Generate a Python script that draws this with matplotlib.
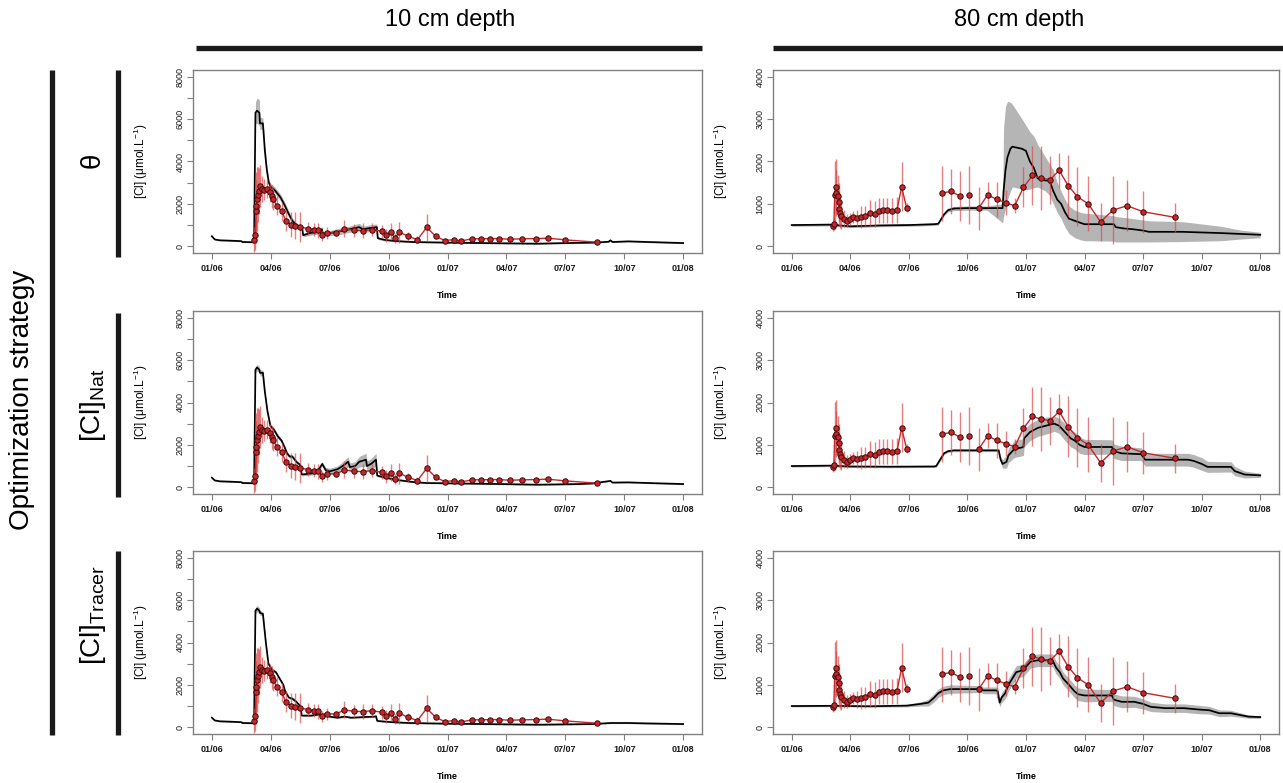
import matplotlib
matplotlib.use('Agg')
import matplotlib.pyplot as plt
from matplotlib.lines import Line2D
import numpy as np

plt.rcParams['font.family'] = ['Liberation Sans', 'DejaVu Sans']
plt.rcParams['mathtext.default'] = 'regular'

# time axis: months since 01/01/2006
month_ticks = [0, 3, 6, 9, 12, 15, 18, 21, 24]
month_labels = ['01/06', '04/06', '07/06', '10/06', '01/07', '04/07', '07/07', '10/07', '01/08']
y10_ticks = [0, 1000, 2000, 3000, 4000, 5000, 6000, 7000, 8000]
y10_labels = ['0', '', '2000', '', '4000', '', '6000', '', '8000']
y80_ticks = [0, 1000, 2000, 3000, 4000]
y80_labels = ['0', '1000', '2000', '3000', '4000']

# observations, 10 cm
obs10_t = [2.17, 2.21, 2.25, 2.26, 2.30, 2.36, 2.42, 2.47, 2.53, 2.64, 2.83, 2.98, 3.06, 3.09,
           3.32, 3.55, 3.77, 4.02, 4.25, 4.50, 4.9, 5.19, 5.43, 5.62, 5.85, 6.34, 6.75, 7.23,
           7.70, 8.17, 8.64, 8.87, 9.1, 9.32, 9.55, 10.0, 10.47, 10.94, 11.4, 11.85, 12.32,
           12.7, 13.25, 13.7, 14.15, 14.6, 15.2, 15.8, 16.5, 17.1, 18.0, 19.6]
obs10_v = [310, 520, 1650, 1900, 2230, 2430, 2600, 2850, 2700, 2670, 2720, 2540, 2350, 2230,
           1920, 1650, 1210, 1020, 970, 910, 830, 780, 750, 520, 630, 630, 820, 750,
           740, 780, 710, 520, 680, 390, 660, 470, 310, 890, 470, 270, 310,
           250, 350, 350, 360, 360, 330, 350, 360, 380, 300, 190]
obs10_e = [600, 700, 1500, 1600, 1500, 1300, 1100, 1000, 600, 500, 450, 450, 550, 500,
           450, 450, 500, 600, 650, 700, 300, 300, 350, 250, 300, 150, 400, 300,
           350, 300, 300, 300, 400, 250, 500, 200, 150, 650, 100, 80, 60,
           60, 60, 60, 60, 60, 60, 60, 60, 60, 80, 60]
obs10_breaks = []

# observations, 80 cm
obs80_t = [2.13, 2.16, 2.20, 2.26, 2.29, 2.35, 2.41, 2.44, 2.48, 2.54, 2.69, 2.85, 3.0, 3.13,
           3.36, 3.54, 3.77, 3.99, 4.25, 4.46, 4.66, 4.89, 5.15, 5.39, 5.63, 5.88, 7.7, 8.17,
           8.62, 9.1, 9.57, 10.04, 10.5, 10.95, 11.42, 11.87, 12.33, 12.76, 13.23, 13.7,
           14.16, 14.63, 15.19, 15.82, 16.46, 17.18, 18.0, 19.65]
obs80_v = [470, 525, 1215, 1400, 1255, 1180, 1035, 885, 785, 705, 650, 600, 645, 690,
           660, 690, 705, 785, 760, 840, 845, 845, 840, 855, 1400, 910, 1255, 1295,
           1180, 1215, 895, 1215, 1105, 1030, 955, 1390, 1670, 1610, 1570, 1790,
           1430, 1170, 1000, 575, 855, 955, 815, 680]
obs80_e = [100, 150, 800, 650, 550, 500, 450, 400, 350, 300, 200, 150, 150, 150,
           200, 250, 250, 300, 300, 300, 300, 300, 300, 300, 580, 100, 650, 530,
           590, 680, 510, 300, 420, 300, 180, 470, 700, 750, 570, 420,
           720, 690, 650, 445, 800, 600, 500, 345]
obs80_breaks = [25, 28, 29]

# model, 10 cm, theta
m10_theta_t = [0, 0.15, 0.4, 1.0, 1.5, 1.55, 2.1, 2.15, 2.22, 2.3, 2.42, 2.45, 2.6, 2.7, 2.8,
               2.9, 3.0, 3.2, 3.5, 3.7, 3.9, 4.1, 4.3, 4.6, 4.65, 5.0, 5.5, 5.6, 5.65, 6.0,
               6.5, 7.0, 7.5, 7.7, 8.0, 8.4, 8.45, 8.8, 9.3, 10.2, 12.0, 14.7, 16.6, 17.5, 19.4,
               20.2, 20.3, 20.4, 21.2, 22.2, 24.0]
m10_theta_v = [470, 320, 280, 260, 240, 200, 190, 190, 6300, 6400, 6300, 5800, 5800, 4500, 3600,
               3000, 2800, 2650, 2300, 1950, 1550, 1200, 1000, 850, 520, 620, 700, 800, 600, 620,
               700, 800, 900, 800, 850, 900, 380, 300, 250, 200, 170, 140, 120, 140, 170,
               210, 280, 200, 230, 200, 150]
m10_theta_w = [30, 30, 30, 30, 30, 30, 30, 30, 500, 600, 600, 300, 250, 200, 200,
               150, 150, 150, 150, 150, 150, 120, 100, 100, 80, 100, 120, 150, 100, 120,
               150, 150, 180, 150, 150, 150, 60, 50, 40, 30, 30, 30, 30, 30, 30,
               30, 30, 30, 30, 30, 30]

# model, 10 cm, [Cl]Nat
m10_nat_t = [0, 0.15, 0.4, 1.0, 1.5, 1.55, 2.1, 2.15, 2.22, 2.3, 2.42, 2.45, 2.6, 2.7, 2.83,
             2.98, 3.17, 3.36, 3.55, 3.7, 3.83, 3.96, 4.1, 4.3, 4.5, 4.58, 5.06, 5.35, 5.62, 5.8,
             6.0, 6.4, 6.66, 6.94, 7.03, 7.3, 7.5, 7.85, 7.9, 8.1, 8.36, 8.42, 8.85, 9.4, 10.2,
             10.9, 14.7, 16.6, 18.7, 19.4, 20.3, 20.4, 21.2, 22.2, 24.0]
m10_nat_v = [450, 320, 280, 260, 240, 200, 190, 190, 5550, 5650, 5550, 5400, 5400, 4500, 3600,
             2900, 2700, 2400, 2200, 1900, 1600, 1450, 1450, 1200, 1050, 600, 650, 700, 1100, 800,
             750, 850, 1000, 1200, 950, 1000, 1200, 1300, 1000, 1100, 1300, 550, 450, 350, 250,
             200, 150, 120, 150, 180, 300, 220, 230, 200, 150]
m10_nat_w = [30, 30, 30, 30, 30, 30, 30, 30, 150, 150, 150, 150, 120, 120, 100,
             100, 100, 100, 80, 80, 80, 80, 80, 80, 80, 60, 80, 80, 100, 120,
             150, 150, 200, 250, 200, 200, 250, 300, 250, 250, 300, 60, 50, 40, 30,
             30, 30, 30, 30, 30, 30, 30, 30, 30, 30]

# model, 10 cm, [Cl]Tracer
m10_tr_t = [0, 0.15, 0.4, 1.0, 1.5, 1.55, 2.1, 2.15, 2.22, 2.3, 2.42, 2.45, 2.6, 2.75, 2.88,
            3.07, 3.26, 3.45, 3.64, 3.73, 3.92, 4.1, 4.3, 4.5, 4.58, 5.06, 5.43, 5.62, 5.77, 6.0,
            6.4, 6.75, 7.1, 7.7, 8.26, 8.36, 8.42, 9.0, 10.0, 11.9, 14.7, 16.6, 19.4, 20.3, 21.2,
            22.2, 24.0]
m10_tr_v = [450, 320, 280, 260, 240, 200, 190, 190, 5500, 5600, 5500, 5400, 5350, 4000, 3000,
            2700, 2600, 2300, 2000, 1700, 1400, 1350, 1200, 1000, 550, 550, 600, 550, 620, 500,
            450, 500, 450, 480, 500, 520, 300, 250, 200, 170, 140, 120, 150, 200, 200,
            180, 150]
m10_tr_w = [30, 30, 30, 30, 30, 30, 30, 30, 150, 150, 150, 120, 100, 80, 80,
            80, 60, 60, 60, 60, 60, 60, 60, 60, 40, 40, 40, 40, 40, 40,
            40, 40, 40, 40, 40, 40, 40, 30, 30, 30, 30, 30, 30, 30, 30,
            30, 30]

# model, 80 cm, theta (asymmetric band)
m80_theta_t = [0, 2.0, 2.2, 3.0, 4.5, 6.0, 7.3, 7.5, 7.6, 7.8, 8.0, 8.3, 9.0, 10.0, 10.8,
               10.85, 10.95, 11.05, 11.2, 11.3, 11.8, 12.0, 12.2, 12.4, 12.6, 13.0, 13.2, 13.4,
               13.6, 13.8, 14.0, 14.2, 14.5, 14.8, 15.0, 16.5, 16.6, 17.0, 17.5, 18.0, 18.3,
               20.0, 22.0, 23.0, 24.0]
m80_theta_v = [500, 510, 500, 470, 490, 500, 520, 530, 600, 750, 850, 890, 900, 900, 900,
               1300, 1800, 2100, 2300, 2350, 2300, 2250, 2000, 1850, 1600, 1550, 1550, 1300,
               1100, 1000, 800, 650, 600, 550, 520, 520, 450, 420, 400, 370, 340,
               340, 310, 290, 270]
m80_theta_lo = [30, 30, 30, 30, 30, 30, 30, 30, 30, 30, 40, 50, 50, 50, 350,
                600, 900, 1000, 1000, 950, 950, 920, 650, 470, 200, 250, 350, 300,
                300, 350, 350, 350, 400, 400, 390, 400, 350, 320, 300, 270, 240,
                230, 180, 120, 70]
m80_theta_hi = [30, 30, 30, 30, 30, 30, 30, 30, 30, 40, 50, 50, 50, 50, 100,
                1500, 1500, 1320, 1100, 1000, 700, 600, 700, 750, 800, 550, 400, 500,
                400, 300, 300, 300, 250, 250, 260, 200, 250, 260, 250, 250, 260,
                240, 160, 90, 60]

# model, 80 cm, [Cl]Nat
m80_nat_t = [0, 2.0, 3.0, 5.0, 7.3, 7.4, 7.6, 7.8, 8.0, 8.3, 9.0, 10.6, 10.7, 10.8, 11.0,
             11.1, 11.4, 11.7, 11.87, 11.9, 12.2, 12.6, 13.0, 13.45, 13.7, 14.0, 14.3, 14.5,
             14.75, 15.0, 16.4, 16.5, 16.9, 17.9, 18.1, 20.3, 20.6, 21.0, 21.3, 22.5, 22.7,
             23.2, 24.0]
m80_nat_v = [500, 510, 490, 485, 490, 500, 650, 800, 850, 870, 870, 870, 650, 550, 600,
             750, 900, 930, 950, 1150, 1300, 1400, 1450, 1500, 1450, 1300, 1150, 1100,
             1000, 950, 950, 850, 800, 780, 650, 650, 620, 550, 480, 480, 380,
             300, 280]
m80_nat_w = [25, 25, 25, 25, 25, 25, 30, 30, 30, 30, 30, 30, 80, 100, 150,
             170, 200, 200, 200, 200, 200, 200, 200, 180, 180, 200, 200, 200,
             200, 180, 170, 170, 170, 150, 150, 150, 150, 150, 130, 120, 110,
             80, 50]

# model, 80 cm, [Cl]Tracer
m80_tr_t = [0, 2.0, 4.0, 5.9, 6.6, 7.0, 7.3, 7.5, 7.76, 8.13, 9.72, 9.8, 10.47, 10.55, 10.65,
            10.75, 10.93, 11.1, 11.3, 11.5, 11.87, 12.05, 12.24, 12.6, 13.36, 13.55, 13.73,
            13.9, 14.2, 14.48, 14.66, 15.0, 16.4, 16.5, 16.9, 17.55, 18.0, 18.4, 19.14, 20.1,
            20.8, 21.4, 21.9, 22.5, 23.06, 23.4, 24.0]
m80_tr_v = [500, 505, 495, 510, 550, 580, 700, 800, 870, 900, 900, 870, 870, 850, 580,
            700, 800, 1000, 1150, 1300, 1350, 1450, 1550, 1580, 1580, 1400, 1300,
            1150, 1000, 850, 780, 750, 750, 650, 600, 600, 550, 480, 450, 450,
            420, 400, 330, 330, 280, 250, 240]
m80_tr_w = [20, 20, 20, 30, 50, 80, 100, 100, 100, 100, 80, 80, 80, 80, 100,
            120, 130, 150, 150, 150, 150, 150, 150, 150, 150, 150, 150,
            150, 150, 150, 150, 150, 140, 140, 140, 130, 120, 110, 100, 100,
            100, 90, 80, 70, 50, 40, 30]

RED = '#c8262a'


def draw_panel(ax, t, v, lo, hi, ot, ov, oe, breaks, yticks, ylabels):
    t = np.asarray(t, float)
    v = np.asarray(v, float)
    ax.fill_between(t, v - np.asarray(lo), v + np.asarray(hi), color='#b5b5b5', lw=0, zorder=1)
    ax.plot(t, v, color='black', lw=1.25, zorder=2)

    ot = np.asarray(ot, float)
    ov = np.asarray(ov, float)
    oe = np.asarray(oe, float)
    ax.vlines(ot, ov - oe, ov + oe, color='#dd4a4a', alpha=0.7, lw=1.0, zorder=3)
    lt, lv = [], []
    for i in range(len(ot)):
        lt.append(ot[i])
        lv.append(ov[i])
        if i in breaks:
            lt.append(np.nan)
            lv.append(np.nan)
    ax.plot(lt, lv, color=RED, lw=1.0, zorder=4)
    ax.plot(ot, ov, 'o', ms=3.9, mfc=RED, mec='#3a0c0c', mew=0.7, zorder=5)

    ymax = yticks[-1]
    ax.set_xlim(-0.96, 24.96)
    ax.set_ylim(-0.04 * ymax, 1.04 * ymax)
    ax.set_xticks(month_ticks)
    ax.set_xticklabels(month_labels, fontsize=6.5, fontweight='bold')
    ax.set_yticks(yticks)
    ax.set_yticklabels(ylabels, fontsize=6.5, rotation=90, va='center')
    for s in ax.spines.values():
        s.set_color('#808080')
        s.set_linewidth(1.0)
    ax.tick_params(direction='out', length=4, width=0.8, color='#808080', labelcolor='#1a1a1a')
    ax.tick_params(axis='x', pad=4)
    ax.tick_params(axis='y', pad=2)
    ax.set_xlabel('Time', fontsize=6.5, fontweight='bold', labelpad=13)
    ax.set_ylabel(r'[Cl] ($\mu$mol.L$^{-1}$)', fontsize=8.5)
    ax.yaxis.set_label_coords(-0.085, 0.5)


fig = plt.figure(figsize=(12.83, 7.83), dpi=100)

col_x = [193 / 1283, 773 / 1283]
col_w = [509 / 1283, 506 / 1283]
row_y = [1 - 253 / 783, 1 - 494 / 783, 1 - 734 / 783]
row_h = 183 / 783

panels10 = [
    (m10_theta_t, m10_theta_v, m10_theta_w, m10_theta_w),
    (m10_nat_t, m10_nat_v, m10_nat_w, m10_nat_w),
    (m10_tr_t, m10_tr_v, m10_tr_w, m10_tr_w),
]
panels80 = [
    (m80_theta_t, m80_theta_v, m80_theta_lo, m80_theta_hi),
    (m80_nat_t, m80_nat_v, m80_nat_w, m80_nat_w),
    (m80_tr_t, m80_tr_v, m80_tr_w, m80_tr_w),
]

for r in range(3):
    ax = fig.add_axes([col_x[0], row_y[r], col_w[0], row_h])
    t, v, lo, hi = panels10[r]
    draw_panel(ax, t, v, lo, hi, obs10_t, obs10_v, obs10_e, obs10_breaks, y10_ticks, y10_labels)
    ax = fig.add_axes([col_x[1], row_y[r], col_w[1], row_h])
    t, v, lo, hi = panels80[r]
    draw_panel(ax, t, v, lo, hi, obs80_t, obs80_v, obs80_e, obs80_breaks, y80_ticks, y80_labels)

# headers and bars
fig.text(450 / 1283, 1 - 20 / 783, '10 cm depth', fontsize=17, ha='center', va='center')
fig.text(1019 / 1283, 1 - 20 / 783, '80 cm depth', fontsize=17, ha='center', va='center')
fig.text(22 / 1283, 1 - 400 / 783, 'Optimization strategy', fontsize=20, rotation=90,
         ha='center', va='center')
row_labels = ['θ', r'[Cl]$_{Nat}$', r'[Cl]$_{Tracer}$']
row_label_y = [160, 405, 615]
for lab, yy in zip(row_labels, row_label_y):
    fig.text(93 / 1283, 1 - yy / 783, lab, fontsize=20, rotation=90, ha='center', va='center')


def bar(x0, y0, x1, y1):
    fig.add_artist(Line2D([x0 / 1283, x1 / 1283], [1 - y0 / 783, 1 - y1 / 783],
                          color='#1a1a1a', lw=3.8, solid_capstyle='butt'))


bar(196, 48, 702, 48)
bar(773, 48, 1283, 48)
bar(52, 70, 52, 735)
bar(118, 70, 118, 257)
bar(118, 313, 118, 497)
bar(118, 551, 118, 735)

fig.savefig('out.png', dpi=100)
